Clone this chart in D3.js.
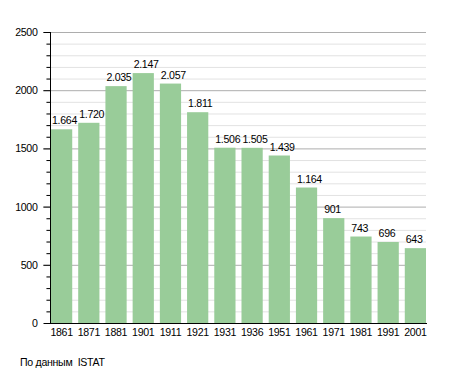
<!DOCTYPE html>
<meta charset="utf-8">
<style>
body { margin: 0; background: #fff; }
text { font-family: "Liberation Sans", Arial, sans-serif; font-size: 10.6px; letter-spacing: -0.3px; fill: #000; }
.minor line { stroke: #e2e2e2; }
.major line { stroke: #adadad; }
</style>
<body>
<svg width="455" height="373"></svg>
<script src="https://cdn.jsdelivr.net/npm/d3@7"></script>
<script>

var years = ["1861","1871","1881","1901","1911","1921","1931","1936","1951","1961","1971","1981","1991","2001"];
var population = [1664, 1720, 2035, 2147, 2057, 1811, 1506, 1505, 1439, 1164, 901, 743, 696, 643];
var yTicks = [0, 500, 1000, 1500, 2000, 2500];
var source = "По данным  ISTAT";

var svg = d3.select("svg");

var x = d3.scaleBand()
    .domain(years)
    .range([48, 429])
    .paddingInner(0.22)
    .paddingOuter(0.11);

var y = d3.scaleLinear()
    .domain([0, 2500])
    .range([323, 32]);

var minorTicks = d3.range(0, 2501, 100);

// grid
svg.append("g")
    .attr("class", "minor")
  .selectAll("line")
  .data(minorTicks.filter(function(d) { return d % 500; }))
  .enter().append("line")
    .attr("x1", 46).attr("x2", 426)
    .attr("y1", function(d) { return y(d) + 0.5; })
    .attr("y2", function(d) { return y(d) + 0.5; });

svg.append("g")
    .attr("class", "major")
  .selectAll("line")
  .data(yTicks.filter(function(d) { return d > 0; }))
  .enter().append("line")
    .attr("x1", 43).attr("x2", 426)
    .attr("y1", function(d) { return y(d) + 0.5; })
    .attr("y2", function(d) { return y(d) + 0.5; });

// bars
svg.append("g")
  .selectAll("rect")
  .data(population)
  .enter().append("rect")
    .attr("x", function(d, i) { return x(years[i]); })
    .attr("y", function(d) { return y(d); })
    .attr("width", x.bandwidth())
    .attr("height", function(d) { return y(0) - y(d); })
    .attr("fill", "#99cc99");

var fmt = d3.formatLocale({ decimal: ",", thousands: ".", grouping: [3], currency: ["", ""] }).format(",");

svg.append("g")
  .selectAll("text")
  .data(population)
  .enter().append("text")
    .attr("x", function(d, i) { return x(years[i]) + 1; })
    .attr("y", function(d) { return y(d) - 5; })
    .text(function(d) { return fmt(d); });

// y axis
var yAxis = svg.append("g")
    .attr("transform", "translate(50.5,0)")
    .call(d3.axisLeft(y).tickValues(yTicks).tickFormat(d3.format("d")).tickSize(7).tickPadding(6));
yAxis.select(".domain").remove();
yAxis.selectAll("line").attr("stroke", "#000");

svg.append("g")
    .attr("transform", "translate(50.5,0)")
  .selectAll("line")
  .data(minorTicks.filter(function(d) { return d % 500; }))
  .enter().append("line")
    .attr("x1", -4).attr("x2", 0)
    .attr("y1", function(d) { return y(d) + 0.5; })
    .attr("y2", function(d) { return y(d) + 0.5; })
    .attr("stroke", "#000");

svg.append("line")
    .attr("x1", 50.5).attr("x2", 50.5)
    .attr("y1", y(2500)).attr("y2", y(0))
    .attr("stroke", "#000");

// x axis
var xAxis = svg.append("g")
    .attr("transform", "translate(0," + (y(0) + 0.5) + ")")
    .call(d3.axisBottom(x).tickSize(0).tickPadding(5));
xAxis.select(".domain").attr("d", "M50,0H427").attr("stroke", "#000");

svg.selectAll(".tick text")
    .attr("font-family", null)
    .attr("font-size", null);

svg.append("text")
    .attr("x", 20)
    .attr("y", 366)
    .style("white-space", "pre")
    .text(source);

</script>
</body>
